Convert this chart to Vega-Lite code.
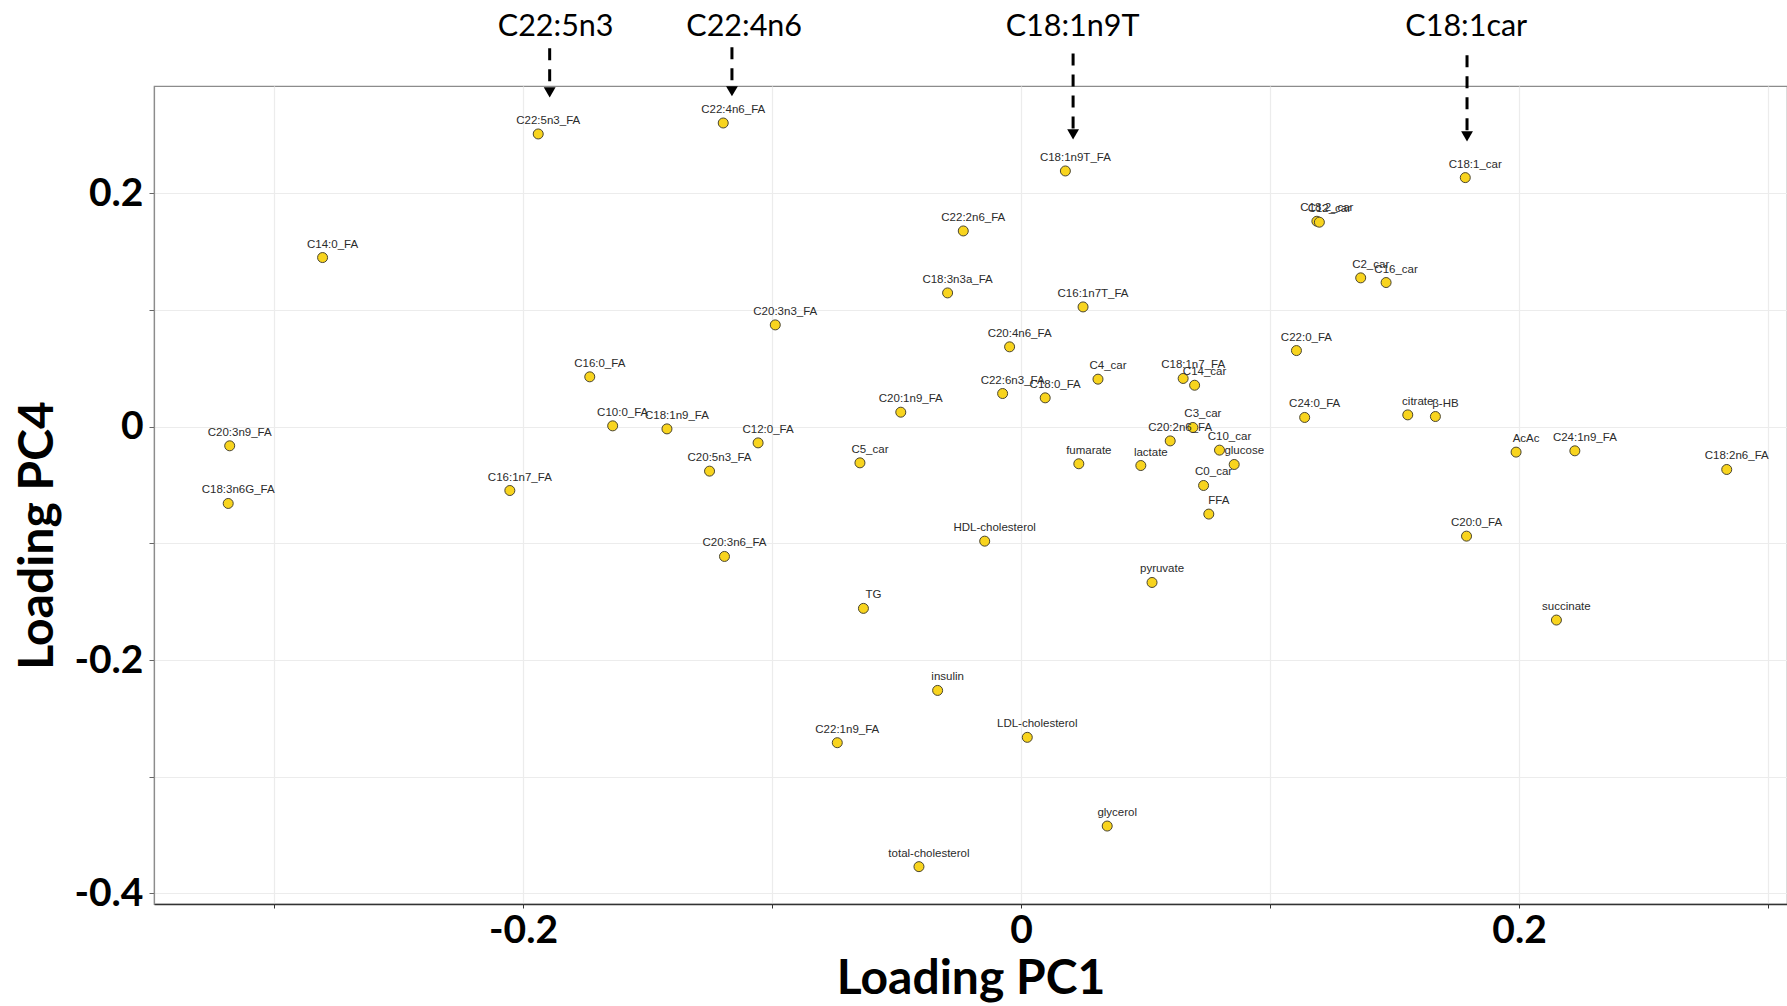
{
  "$schema": "https://vega.github.io/schema/vega-lite/v6.json",
  "width": 1633,
  "height": 818,
  "autosize": {"type": "none"},
  "padding": {"left": 154, "top": 86, "right": 0, "bottom": 102},
  "background": "white",
  "config": {
    "view": {"stroke": "#8c8c8c", "strokeWidth": 1.2},
    "axis": {"labelFont": "Lato", "titleFont": "Lato", "labelFontWeight": "bold", "titleFontWeight": "bold", "labelColor": "#000", "titleColor": "#000"},
    "axisX": {
      "labelFontSize": 39, "labelBaseline": "alphabetic", "labelPadding": 34, "labelFlush": false, "labelOverlap": false,
      "tickSize": 4, "tickColor": "#333", "tickWidth": 1,
      "domainColor": "#333", "domainWidth": 1.5,
      "gridColor": "#ececec", "gridWidth": 1.2,
      "titleFontSize": 48, "titleY": 89, "titleBaseline": "alphabetic"
    },
    "axisY": {
      "labelFontSize": 39, "labelPadding": 6, "labelBaseline": "middle", "labelFlush": false, "labelOverlap": false,
      "tickSize": 5, "tickColor": "#666", "tickWidth": 1,
      "domainColor": "#8c8c8c", "domainWidth": 1.2,
      "gridColor": "#ececec", "gridWidth": 1.2,
      "titleFontSize": 48, "titleAngle": -90, "titleX": -102, "titleY": 449, "titleBaseline": "alphabetic", "titleAlign": "center"
    }
  },
  "datasets": {
    "pts": [
      {"label": "C22:5n3_FA", "x": -0.1939, "y": 0.2508},
      {"label": "C14:0_FA", "x": -0.2805, "y": 0.1449},
      {"label": "C22:4n6_FA", "x": -0.1196, "y": 0.2602},
      {"label": "C18:1n9T_FA", "x": 0.0178, "y": 0.2191},
      {"label": "C22:2n6_FA", "x": -0.0232, "y": 0.1677},
      {"label": "C18:3n3a_FA", "x": -0.0295, "y": 0.1146},
      {"label": "C16:1n7T_FA", "x": 0.0249, "y": 0.1026},
      {"label": "C20:3n3_FA", "x": -0.0987, "y": 0.0872},
      {"label": "C20:4n6_FA", "x": -0.0046, "y": 0.0684},
      {"label": "C18:1_car", "x": 0.1784, "y": 0.2134},
      {"label": "C18:2_car", "x": 0.1188, "y": 0.176},
      {"label": "C12_car", "x": 0.1198, "y": 0.1752},
      {"label": "C2_car", "x": 0.1364, "y": 0.1275},
      {"label": "C16_car", "x": 0.1466, "y": 0.1235},
      {"label": "C22:0_FA", "x": 0.1106, "y": 0.0652},
      {"label": "C20:3n9_FA", "x": -0.3178, "y": -0.0164},
      {"label": "C18:3n6G_FA", "x": -0.3184, "y": -0.0658},
      {"label": "C16:1n7_FA", "x": -0.2053, "y": -0.0547},
      {"label": "C16:0_FA", "x": -0.1732, "y": 0.0427},
      {"label": "C10:0_FA", "x": -0.164, "y": 0.0007},
      {"label": "C18:1n9_FA", "x": -0.1422, "y": -0.0019},
      {"label": "C12:0_FA", "x": -0.1056, "y": -0.0139},
      {"label": "C20:5n3_FA", "x": -0.1251, "y": -0.0381},
      {"label": "C5_car", "x": -0.0647, "y": -0.031},
      {"label": "C20:1n9_FA", "x": -0.0483, "y": 0.0124},
      {"label": "C22:6n3_FA", "x": -0.0074, "y": 0.0284},
      {"label": "C18:0_FA", "x": 0.0097, "y": 0.0247},
      {"label": "C4_car", "x": 0.0309, "y": 0.0407},
      {"label": "C18:1n7_FA", "x": 0.0651, "y": 0.0413},
      {"label": "C14_car", "x": 0.0697, "y": 0.0355},
      {"label": "C20:2n6_FA", "x": 0.0599, "y": -0.0122},
      {"label": "C3_car", "x": 0.069, "y": -0.0007},
      {"label": "fumarate", "x": 0.0232, "y": -0.0318},
      {"label": "lactate", "x": 0.0481, "y": -0.0333},
      {"label": "HDL-cholesterol", "x": -0.0146, "y": -0.0981},
      {"label": "C20:3n6_FA", "x": -0.1191, "y": -0.1112},
      {"label": "TG", "x": -0.0633, "y": -0.1557},
      {"label": "pyruvate", "x": 0.0526, "y": -0.1335},
      {"label": "C10_car", "x": 0.0797, "y": -0.0201},
      {"label": "glucose", "x": 0.0856, "y": -0.0324},
      {"label": "C0_car", "x": 0.0733, "y": -0.0504},
      {"label": "FFA", "x": 0.0754, "y": -0.0749},
      {"label": "C24:0_FA", "x": 0.1139, "y": 0.0079},
      {"label": "citrate", "x": 0.1553, "y": 0.0101},
      {"label": "β-HB", "x": 0.1664, "y": 0.0087},
      {"label": "AcAc", "x": 0.1988, "y": -0.0218},
      {"label": "C24:1n9_FA", "x": 0.2224, "y": -0.0207},
      {"label": "C18:2n6_FA", "x": 0.2834, "y": -0.0367},
      {"label": "C20:0_FA", "x": 0.1789, "y": -0.0938},
      {"label": "succinate", "x": 0.215, "y": -0.1657},
      {"label": "insulin", "x": -0.0335, "y": -0.226},
      {"label": "C22:1n9_FA", "x": -0.0738, "y": -0.2708},
      {"label": "LDL-cholesterol", "x": 0.0025, "y": -0.2662},
      {"label": "glycerol", "x": 0.0346, "y": -0.3422},
      {"label": "total-cholesterol", "x": -0.041, "y": -0.377}
    ],
    "ann": [
      {"name": "C22:5n3", "x": -0.1893, "lx": -0.1869, "ly": 0.3345, "y": 0.3242, "y2": 0.292, "yh": 0.2865},
      {"name": "C22:4n6", "x": -0.1161, "lx": -0.1112, "ly": 0.3345, "y": 0.325, "y2": 0.2908, "yh": 0.2874},
      {"name": "C18:1n9T", "x": 0.0209, "lx": 0.0207, "ly": 0.3345, "y": 0.3197, "y2": 0.254, "yh": 0.2505},
      {"name": "C18:1car", "x": 0.1791, "lx": 0.1788, "ly": 0.3345, "y": 0.3182, "y2": 0.2522, "yh": 0.2488}
    ]
  },
  "layer": [
    {
      "data": {"name": "pts"},
      "mark": {"type": "point", "shape": "circle", "filled": true, "size": 100, "fill": "#F8D41E", "stroke": "#4a4530", "strokeWidth": 1, "opacity": 1},
      "encoding": {
        "x": {"field": "x", "type": "quantitative", "title": "Loading PC1", "scale": {"domain": [-0.3482, 0.3076], "nice": false, "zero": false},
          "axis": {"values": [-0.3, -0.2, -0.1, 0, 0.1, 0.2, 0.3], "labelExpr": "abs(round(datum.value*10)) % 2 == 1 ? '' : '' + datum.value"}},
        "y": {"field": "y", "type": "quantitative", "title": "Loading PC4", "scale": {"domain": [-0.409, 0.2919], "nice": false, "zero": false},
          "axis": {"values": [-0.4, -0.3, -0.2, -0.1, 0, 0.1, 0.2], "labelExpr": "abs(round(datum.value*10)) % 2 == 1 ? '' : '' + datum.value"}}
      }
    },
    {
      "data": {"name": "pts"},
      "mark": {"type": "text", "font": "Liberation Sans", "fontSize": 11.5, "color": "#2b2b2b", "align": "center", "baseline": "alphabetic", "dx": 10, "dy": -10},
      "encoding": {
        "x": {"field": "x", "type": "quantitative", "title": "Loading PC1", "scale": {"domain": [-0.3482, 0.3076], "nice": false, "zero": false},
          "axis": {"values": [-0.3, -0.2, -0.1, 0, 0.1, 0.2, 0.3], "labelExpr": "abs(round(datum.value*10)) % 2 == 1 ? '' : '' + datum.value"}},
        "y": {"field": "y", "type": "quantitative", "title": "Loading PC4", "scale": {"domain": [-0.409, 0.2919], "nice": false, "zero": false},
          "axis": {"values": [-0.4, -0.3, -0.2, -0.1, 0, 0.1, 0.2], "labelExpr": "abs(round(datum.value*10)) % 2 == 1 ? '' : '' + datum.value"}},
        "text": {"field": "label"}
      }
    },
    {
      "data": {"name": "ann"},
      "mark": {"type": "rule", "color": "#000", "strokeWidth": 3, "strokeDash": [12, 9]},
      "encoding": {
        "x": {"field": "x", "type": "quantitative", "title": "Loading PC1", "scale": {"domain": [-0.3482, 0.3076], "nice": false, "zero": false},
          "axis": {"values": [-0.3, -0.2, -0.1, 0, 0.1, 0.2, 0.3], "labelExpr": "abs(round(datum.value*10)) % 2 == 1 ? '' : '' + datum.value"}},
        "y": {"field": "y", "type": "quantitative", "title": "Loading PC4", "scale": {"domain": [-0.409, 0.2919], "nice": false, "zero": false},
          "axis": {"values": [-0.4, -0.3, -0.2, -0.1, 0, 0.1, 0.2], "labelExpr": "abs(round(datum.value*10)) % 2 == 1 ? '' : '' + datum.value"}},
        "y2": {"field": "y2"}
      }
    },
    {
      "data": {"name": "ann"},
      "mark": {"type": "point", "shape": "triangle-down", "filled": true, "size": 140, "color": "#000", "opacity": 1},
      "encoding": {
        "x": {"field": "x", "type": "quantitative", "title": "Loading PC1", "scale": {"domain": [-0.3482, 0.3076], "nice": false, "zero": false},
          "axis": {"values": [-0.3, -0.2, -0.1, 0, 0.1, 0.2, 0.3], "labelExpr": "abs(round(datum.value*10)) % 2 == 1 ? '' : '' + datum.value"}},
        "y": {"field": "yh", "type": "quantitative", "title": "Loading PC4", "scale": {"domain": [-0.409, 0.2919], "nice": false, "zero": false},
          "axis": {"values": [-0.4, -0.3, -0.2, -0.1, 0, 0.1, 0.2], "labelExpr": "abs(round(datum.value*10)) % 2 == 1 ? '' : '' + datum.value"}}
      }
    },
    {
      "data": {"name": "ann"},
      "mark": {"type": "text", "font": "Lato", "fontSize": 30.5, "color": "#000", "align": "center", "baseline": "alphabetic"},
      "encoding": {
        "x": {"field": "lx", "type": "quantitative", "title": "Loading PC1", "scale": {"domain": [-0.3482, 0.3076], "nice": false, "zero": false},
          "axis": {"values": [-0.3, -0.2, -0.1, 0, 0.1, 0.2, 0.3], "labelExpr": "abs(round(datum.value*10)) % 2 == 1 ? '' : '' + datum.value"}},
        "y": {"field": "ly", "type": "quantitative", "title": "Loading PC4", "scale": {"domain": [-0.409, 0.2919], "nice": false, "zero": false},
          "axis": {"values": [-0.4, -0.3, -0.2, -0.1, 0, 0.1, 0.2], "labelExpr": "abs(round(datum.value*10)) % 2 == 1 ? '' : '' + datum.value"}},
        "text": {"field": "name"}
      }
    }
  ]
}
